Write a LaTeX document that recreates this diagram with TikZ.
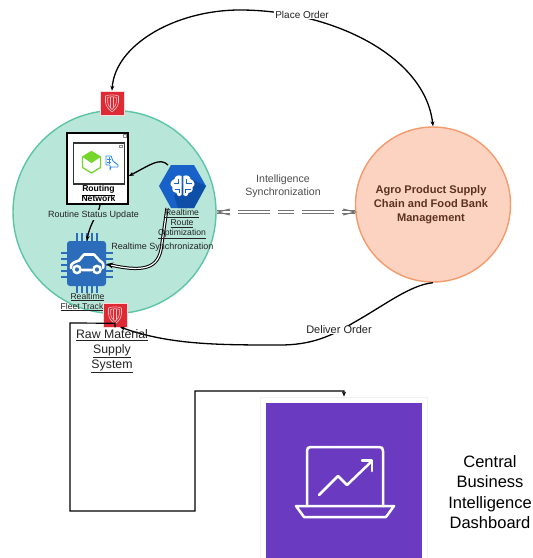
\documentclass[tikz,border=0pt]{standalone}
\usepackage{fontspec}
\setmainfont{Liberation Sans}
\usetikzlibrary{arrows.meta,calc}
\definecolor{greenfill}{HTML}{B8E6D9}
\definecolor{greenline}{HTML}{5CC5A5}
\definecolor{peachfill}{HTML}{FBD3C0}
\definecolor{peachline}{HTML}{F49B6E}
\definecolor{shieldred}{HTML}{DD2A35}
\definecolor{chipblue}{HTML}{2C6DBB}
\definecolor{hexblue}{HTML}{1761C9}
\definecolor{hexdark}{HTML}{0F4FA8}
\definecolor{dashpurple}{HTML}{6A3BC0}
\definecolor{agrotext}{HTML}{5A3320}
\definecolor{inklabel}{HTML}{222222}
\definecolor{cubegreen}{HTML}{76D62B}
\definecolor{mapblue}{HTML}{2E8CF0}
\tikzset{
  x=1pt,y=-1pt,
  conn/.style={draw=black,line width=1.3pt,-{Stealth[length=5pt,width=4pt]}},
  dbl/.style={draw=black,line width=1pt,double=white,double distance=1.2pt,-{Stealth[length=7pt,width=6pt,open]}},
  syncdash/.style={draw=black!55,line width=1pt,dash pattern=on 13pt off 8pt on 32pt off 8pt on 16pt off 8pt on 32pt off 8pt on 13pt},
  lbl/.style={font=\fontsize{9}{10.5}\selectfont,text=inklabel,inner sep=0pt,align=center},
  ulbl/.style={font=\fontsize{8.6}{10}\selectfont,text=inklabel,inner sep=0pt,align=center},
  badge/.style={fill=shieldred,draw=white!85!red,line width=.5pt,minimum size=24pt,inner sep=0pt},
  pin/.style={chipblue,line width=2.2pt},
  ico/.style={draw=white,line width=2.5pt,line join=round,line cap=round},
}
\newcommand{\shieldmark}[1]{%
  \begin{scope}[shift={(#1)},draw=white!70!shieldred,line width=.6pt]
    \draw (-6.5,-7) .. controls (-3,-8.5) and (3,-8.5) .. (6.5,-7) -- (6.5,-1) .. controls (6.5,4) and (2,7) .. (0,9) .. controls (-2,7) and (-6.5,4) .. (-6.5,-1) -- cycle;
    \draw (-4.3,-5.5) .. controls (-2,-6.5) and (2,-6.5) .. (4.3,-5.5) -- (4.3,-1) .. controls (4.3,2.5) and (1.5,5) .. (0,6.5) .. controls (-1.5,5) and (-4.3,2.5) .. (-4.3,-1) -- cycle;
    \draw (-1.7,-6) -- (-1.7,5) (1.7,-6) -- (1.7,5);
  \end{scope}}
\begin{document}
\begin{tikzpicture}
\useasboundingbox (0,0) rectangle (533,558);
\clip (0,0) rectangle (533,558);
% big circles
\node[circle,fill=greenfill,draw=greenline,line width=1.4pt,minimum size=203pt,inner sep=0pt] (cluster) at (114.5,212) {};
\node[circle,fill=peachfill,draw=peachline,line width=1.4pt,minimum size=155pt,inner sep=0pt] (agro) at (433,204.5) {};
\node[font=\bfseries\fontsize{11.1}{13.9}\selectfont,text=agrotext,align=center,inner sep=0pt] (agrolabel) at (431,205) {Agro Product Supply\\Chain and Food Bank\\Management};
% dashboard
\node[fill=white,draw=black!6,line width=.8pt,minimum width=167pt,minimum height=175pt,inner sep=0pt] (card) at (344,484.5) {};
\fill[dashpurple] (266,403) rectangle (422,558);
\draw[ico] (307,506) -- (307,451) .. controls (307,448) and (308,447) .. (311,447) -- (379,447) .. controls (382,447) and (383,448) .. (383,451) -- (383,506);
\draw[ico] (296,506) -- (394,506) -- (386,517) -- (304,517) -- cycle;
\draw[ico] (319,495) -- (338,476) -- (347,485) -- (372,461);
\draw[ico] (362,460.5) -- (372,460.5) -- (372,471);
\node[font=\fontsize{16.5}{20.6}\selectfont,align=center,inner sep=0pt] (dashlabel) at (490,492) {Central\\Business\\Intelligence\\Dashboard};
% routing box
\node[draw=black,fill=white,line width=1.5pt,minimum width=61pt,minimum height=71pt,inner sep=0pt] (routing) at (97.5,168.5) {};
\node[draw=black!80,fill=white,line width=1.3pt,minimum width=51pt,minimum height=41pt,inner sep=0pt] (inner) at (99,163.5) {};
\draw[black!45,line width=.3pt] (123.5,134.5) rectangle (126,137);
\draw[black!45,line width=.3pt] (119.5,145) rectangle (122,147.5);
\node[font=\bfseries\fontsize{8.6}{10.2}\selectfont,inner sep=0pt,align=center] (routinglabel) at (98.5,194.5) {\underline{Routing}\\\underline{Network}};
% cube
\draw[draw=cubegreen,line width=1.3pt,line join=round] (91.5,151.5) -- (100.5,157) -- (100.5,167.5) -- (91.5,173) -- (82.5,167.5) -- (82.5,157) -- cycle;
\fill[cubegreen] (91.5,151.5) -- (100.5,157) -- (91.5,163) -- (82.5,157) -- cycle;
% small blue icon
\draw[mapblue,line width=.9pt,line join=round] (106,156) -- (111,156) -- (113,161) -- (118,165) -- (118,167) -- (111,167) -- (110,170) -- (110,165) -- (106,165) -- cycle;
\draw[mapblue,line width=.5pt] (107,159) -- (111,159) (107,162) -- (111,162) (109,157) -- (109,164);
% hexagon brain
\fill[hexblue] (159,186) -- (171,165) -- (194,165) -- (206,186) -- (194,208) -- (171,208) -- cycle;
\fill[hexdark] (189,178) -- (206,186) -- (194,208) -- (178,208) -- (174,196) -- cycle;
\coordinate (hexN) at (168,165);
\coordinate (hexS) at (167,208);
\coordinate (deliverEnd) at (120,327);
\begin{scope}[shift={(182.5,186)}]
  \fill[white] (-.8,-10) .. controls (-5,-12) and (-8,-9) .. (-8,-7) .. controls (-13,-5) and (-13,0) .. (-10,1) .. controls (-11,5) and (-8,7) .. (-6,7) .. controls (-5,11) and (-2,11) .. (-.8,9) -- cycle;
  \fill[white] (.8,-10) .. controls (5,-12) and (8,-9) .. (8,-7) .. controls (13,-5) and (13,0) .. (10,1) .. controls (11,5) and (8,7) .. (6,7) .. controls (5,11) and (2,11) .. (.8,9) -- cycle;
  \draw[hexblue,line width=1pt] (-9,-3) -- (-4,-3) -- (-4,-7) (-8,3) -- (-3,3) -- (-3,7) (3,-3) -- (9,-3) (4,-3) -- (4,-7) (3,3) -- (8,3) (3,3) -- (3,7);
\end{scope}
% chip
\node[fill=chipblue,rounded corners=3pt,minimum width=39pt,minimum height=45pt,inner sep=0pt] (chip) at (86.5,263.5) {};
\foreach \x in {77,82,87,92,97} {
  \draw[pin] (\x,233) -- (\x,241);
  \draw[pin] (\x,286) -- (\x,293);
}
\foreach \y in {253,259,265,271,277} {
  \draw[pin] (61,\y) -- (67,\y);
  \draw[pin] (106,\y) -- (113,\y);
}
\draw[white,line width=2.6pt,line join=round,line cap=round] (71,268) .. controls (70,263) and (75,262) .. (79,260.5) -- (84,254.5) -- (94,254.5) -- (100,261) .. controls (103,262) and (104,265) .. (103,268) (82,270) -- (92,270);
\draw[white,line width=2.4pt,fill=chipblue] (77,269.5) circle (3.6) (97,269.5) circle (3.6);
% badges
\node[badge] (shieldtop) at (112,103) {};
\shieldmark{112,103}
\node[badge] (shieldbot) at (115,315) {};
\shieldmark{115,315}
% connectors
\draw[conn,{Stealth[length=5pt,width=4pt]}-{Stealth[length=5pt,width=4pt]}] (shieldtop.north) .. controls (115,45) and (175,10) .. (240,10) .. controls (330,10) and (425,55) .. (agro.north);
\draw[conn] (agro.south) .. controls (410,285) and (385,305) .. (353,323) .. controls (330,337) and (310,345) .. (280,345) .. controls (220,345) and (170,345) .. (deliverEnd);
\draw[conn,line width=1.2pt] (shieldbot.south) -- ++(0,-4) -- (70,323) -- (70,511) -- (195,511) -- (195,391) -- (344,391) -- (card.north -| 344,398);
\draw[conn] (hexN) .. controls (160,157) and (150,165) .. (routing.east |- 0,176);
\draw[conn] (routing.south -| 100,204) .. controls (99,214) and (90,222) .. (chip.north -| 87,233);
\draw[dbl] (hexS) -- (162,243) .. controls (160,265) and (150,274) .. (chip.east |- 0,264);
\foreach \o in {-1.2,1.2} {
  \draw[syncdash] ($(cluster.east |- 0,212)+(0,\o)$) -- ($(agro.west |- 0,212)+(0,\o)$);
}
\draw[draw=black!55,line width=1pt] (230,209) -- (218,212) -- (230,215) (343,209) -- (355,212) -- (343,215);
% labels
\node[lbl,fill=white,inner xsep=1pt] (placelabel) at (302,15) {\fontsize{10}{12}\selectfont Place Order};
\node[lbl,fill=white,inner xsep=1pt] (deliverlabel) at (339,330) {\fontsize{11}{13}\selectfont Deliver Order};
\node[lbl,fill=greenfill,inner ysep=1pt] (statuslabel) at (93.5,215) {Routine Status Update};
\node[ulbl] (hexlabel) at (182,224) {\underline{Realtime}\\\underline{Route}\\\underline{Optimization}};
\node[ulbl] (chiplabel) at (82,302) {\hspace*{11pt}\underline{Realtime}\\\underline{Fleet Track}};
\node[font=\fontsize{12.3}{15}\selectfont,text=inklabel,inner sep=0pt,align=center] (rawlabel) at (112,351) {\underline{Raw Material}\\\underline{Supply}\\\underline{System}};
\node[lbl] (synclabel) at (162.5,247) {Realtime Synchronization};
\node[font=\fontsize{10.6}{13}\selectfont,text=black!70,inner sep=0pt,align=center] (intlabel) at (283,186) {Intelligence\\Synchronization};
\end{tikzpicture}
\end{document}
